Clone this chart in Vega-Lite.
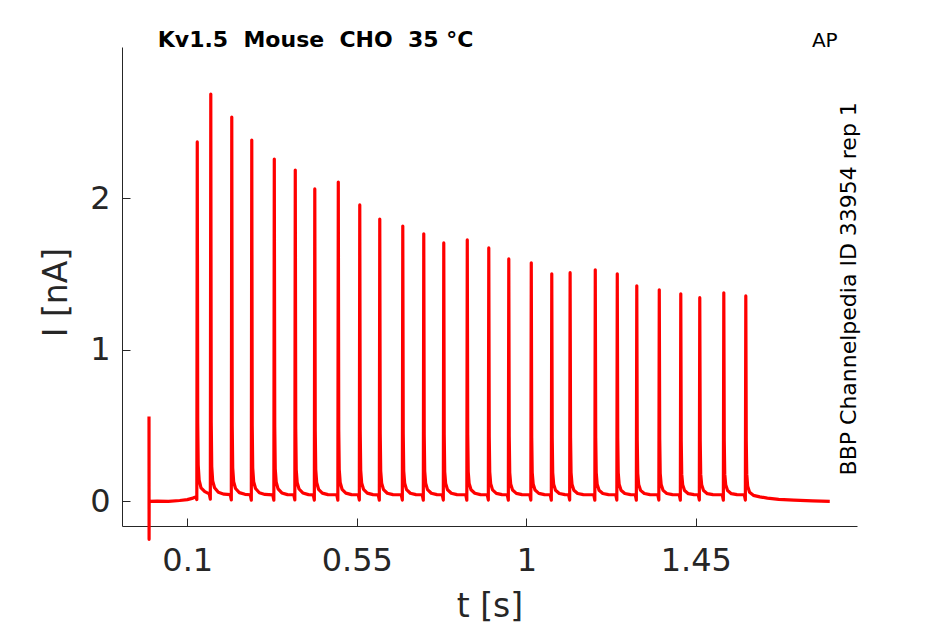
{
  "$schema": "https://vega.github.io/schema/vega-lite/v6.json",
  "autosize": {"type": "none"},
  "padding": {"left": 122, "top": 47, "right": 88, "bottom": 98},
  "width": 735,
  "height": 479,
  "background": "white",
  "layer": [
    {
      "data": {
        "values": [
          {"t": -0.0016, "I": 0.56}, {"t": -0.0014, "I": -0.25}, {"t": -0.0012, "I": 0.0},
          {"t": 0.02, "I": 0.002}, {"t": 0.05, "I": 0.0}, {"t": 0.08, "I": 0.006}, {"t": 0.1, "I": 0.012}, {"t": 0.115, "I": 0.022},
          {"t": 0.1225, "I": 0.03}, {"t": 0.1253, "I": 0.012}, {"t": 0.1265, "I": 2.37}, {"t": 0.1277, "I": 0.52}, {"t": 0.129, "I": 0.24}, {"t": 0.1315, "I": 0.14}, {"t": 0.1365, "I": 0.09}, {"t": 0.1465, "I": 0.065},
          {"t": 0.1584, "I": 0.05}, {"t": 0.1612, "I": 0.015}, {"t": 0.1624, "I": 2.686}, {"t": 0.1636, "I": 0.52}, {"t": 0.1649, "I": 0.23}, {"t": 0.1674, "I": 0.135}, {"t": 0.1724, "I": 0.09}, {"t": 0.1824, "I": 0.06}, {"t": 0.1974, "I": 0.048},
          {"t": 0.2141, "I": 0.045}, {"t": 0.2169, "I": 0.01}, {"t": 0.2181, "I": 2.534}, {"t": 0.2193, "I": 0.5}, {"t": 0.2206, "I": 0.22}, {"t": 0.2231, "I": 0.13}, {"t": 0.2281, "I": 0.085}, {"t": 0.2381, "I": 0.058}, {"t": 0.2531, "I": 0.047},
          {"t": 0.2672, "I": 0.044}, {"t": 0.27, "I": 0.008}, {"t": 0.2712, "I": 2.383}, {"t": 0.2724, "I": 0.5}, {"t": 0.2737, "I": 0.22}, {"t": 0.2762, "I": 0.13}, {"t": 0.2812, "I": 0.085}, {"t": 0.2912, "I": 0.057}, {"t": 0.3062, "I": 0.046},
          {"t": 0.327, "I": 0.043}, {"t": 0.3298, "I": 0.008}, {"t": 0.331, "I": 2.257}, {"t": 0.3322, "I": 0.49}, {"t": 0.3335, "I": 0.215}, {"t": 0.336, "I": 0.128}, {"t": 0.341, "I": 0.083}, {"t": 0.351, "I": 0.056}, {"t": 0.366, "I": 0.045},
          {"t": 0.3827, "I": 0.044}, {"t": 0.3855, "I": 0.01}, {"t": 0.3867, "I": 2.185}, {"t": 0.3879, "I": 0.48}, {"t": 0.3892, "I": 0.21}, {"t": 0.3917, "I": 0.125}, {"t": 0.3967, "I": 0.082}, {"t": 0.4067, "I": 0.056}, {"t": 0.4217, "I": 0.045},
          {"t": 0.4345, "I": 0.043}, {"t": 0.4373, "I": 0.009}, {"t": 0.4385, "I": 2.06}, {"t": 0.4397, "I": 0.47}, {"t": 0.441, "I": 0.21}, {"t": 0.4435, "I": 0.125}, {"t": 0.4485, "I": 0.08}, {"t": 0.4585, "I": 0.055}, {"t": 0.4735, "I": 0.045},
          {"t": 0.4969, "I": 0.044}, {"t": 0.4997, "I": 0.008}, {"t": 0.5009, "I": 2.106}, {"t": 0.5021, "I": 0.47}, {"t": 0.5034, "I": 0.21}, {"t": 0.5059, "I": 0.125}, {"t": 0.5109, "I": 0.08}, {"t": 0.5209, "I": 0.055}, {"t": 0.5359, "I": 0.045},
          {"t": 0.5539, "I": 0.044}, {"t": 0.5567, "I": 0.009}, {"t": 0.5579, "I": 1.955}, {"t": 0.5591, "I": 0.46}, {"t": 0.5604, "I": 0.205}, {"t": 0.5629, "I": 0.122}, {"t": 0.5679, "I": 0.08}, {"t": 0.5779, "I": 0.055}, {"t": 0.5929, "I": 0.045},
          {"t": 0.607, "I": 0.043}, {"t": 0.6098, "I": 0.008}, {"t": 0.611, "I": 1.862}, {"t": 0.6122, "I": 0.45}, {"t": 0.6135, "I": 0.2}, {"t": 0.616, "I": 0.12}, {"t": 0.621, "I": 0.078}, {"t": 0.631, "I": 0.054}, {"t": 0.646, "I": 0.045},
          {"t": 0.6681, "I": 0.044}, {"t": 0.6709, "I": 0.009}, {"t": 0.6721, "I": 1.816}, {"t": 0.6733, "I": 0.45}, {"t": 0.6746, "I": 0.2}, {"t": 0.6771, "I": 0.12}, {"t": 0.6821, "I": 0.078}, {"t": 0.6921, "I": 0.054}, {"t": 0.7071, "I": 0.045},
          {"t": 0.7238, "I": 0.044}, {"t": 0.7266, "I": 0.008}, {"t": 0.7278, "I": 1.764}, {"t": 0.729, "I": 0.44}, {"t": 0.7303, "I": 0.2}, {"t": 0.7328, "I": 0.12}, {"t": 0.7378, "I": 0.078}, {"t": 0.7478, "I": 0.054}, {"t": 0.7628, "I": 0.045},
          {"t": 0.7769, "I": 0.044}, {"t": 0.7797, "I": 0.009}, {"t": 0.7809, "I": 1.704}, {"t": 0.7821, "I": 0.44}, {"t": 0.7834, "I": 0.195}, {"t": 0.7859, "I": 0.118}, {"t": 0.7909, "I": 0.077}, {"t": 0.8009, "I": 0.054}, {"t": 0.8159, "I": 0.045},
          {"t": 0.8393, "I": 0.044}, {"t": 0.8421, "I": 0.008}, {"t": 0.8433, "I": 1.724}, {"t": 0.8445, "I": 0.44}, {"t": 0.8458, "I": 0.195}, {"t": 0.8483, "I": 0.118}, {"t": 0.8533, "I": 0.077}, {"t": 0.8633, "I": 0.054}, {"t": 0.8783, "I": 0.045},
          {"t": 0.8964, "I": 0.044}, {"t": 0.8992, "I": 0.009}, {"t": 0.9004, "I": 1.671}, {"t": 0.9016, "I": 0.43}, {"t": 0.9029, "I": 0.195}, {"t": 0.9054, "I": 0.117}, {"t": 0.9104, "I": 0.076}, {"t": 0.9204, "I": 0.053}, {"t": 0.9354, "I": 0.045},
          {"t": 0.9495, "I": 0.044}, {"t": 0.9523, "I": 0.008}, {"t": 0.9535, "I": 1.599}, {"t": 0.9547, "I": 0.43}, {"t": 0.956, "I": 0.19}, {"t": 0.9585, "I": 0.115}, {"t": 0.9635, "I": 0.075}, {"t": 0.9735, "I": 0.053}, {"t": 0.9885, "I": 0.045},
          {"t": 1.0092, "I": 0.044}, {"t": 1.012, "I": 0.009}, {"t": 1.0132, "I": 1.573}, {"t": 1.0144, "I": 0.42}, {"t": 1.0157, "I": 0.19}, {"t": 1.0182, "I": 0.115}, {"t": 1.0232, "I": 0.075}, {"t": 1.0332, "I": 0.053}, {"t": 1.0482, "I": 0.045},
          {"t": 1.0636, "I": 0.044}, {"t": 1.0664, "I": 0.008}, {"t": 1.0676, "I": 1.501}, {"t": 1.0688, "I": 0.42}, {"t": 1.0701, "I": 0.19}, {"t": 1.0726, "I": 0.114}, {"t": 1.0776, "I": 0.074}, {"t": 1.0876, "I": 0.052}, {"t": 1.1026, "I": 0.045},
          {"t": 1.1123, "I": 0.044}, {"t": 1.1151, "I": 0.009}, {"t": 1.1163, "I": 1.508}, {"t": 1.1175, "I": 0.42}, {"t": 1.1188, "I": 0.19}, {"t": 1.1213, "I": 0.114}, {"t": 1.1263, "I": 0.074}, {"t": 1.1363, "I": 0.052}, {"t": 1.1513, "I": 0.045},
          {"t": 1.1791, "I": 0.044}, {"t": 1.1819, "I": 0.008}, {"t": 1.1831, "I": 1.527}, {"t": 1.1843, "I": 0.42}, {"t": 1.1856, "I": 0.19}, {"t": 1.1881, "I": 0.114}, {"t": 1.1931, "I": 0.074}, {"t": 1.2031, "I": 0.052}, {"t": 1.2181, "I": 0.045},
          {"t": 1.2375, "I": 0.044}, {"t": 1.2403, "I": 0.009}, {"t": 1.2415, "I": 1.501}, {"t": 1.2427, "I": 0.42}, {"t": 1.244, "I": 0.19}, {"t": 1.2465, "I": 0.113}, {"t": 1.2515, "I": 0.074}, {"t": 1.2615, "I": 0.052}, {"t": 1.2765, "I": 0.045},
          {"t": 1.2893, "I": 0.044}, {"t": 1.2921, "I": 0.008}, {"t": 1.2933, "I": 1.422}, {"t": 1.2945, "I": 0.41}, {"t": 1.2958, "I": 0.185}, {"t": 1.2983, "I": 0.112}, {"t": 1.3033, "I": 0.073}, {"t": 1.3133, "I": 0.052}, {"t": 1.3283, "I": 0.045},
          {"t": 1.349, "I": 0.044}, {"t": 1.3518, "I": 0.009}, {"t": 1.353, "I": 1.395}, {"t": 1.3542, "I": 0.41}, {"t": 1.3555, "I": 0.185}, {"t": 1.358, "I": 0.112}, {"t": 1.363, "I": 0.073}, {"t": 1.373, "I": 0.052}, {"t": 1.388, "I": 0.045},
          {"t": 1.4061, "I": 0.044}, {"t": 1.4089, "I": 0.008}, {"t": 1.4101, "I": 1.369}, {"t": 1.4113, "I": 0.4}, {"t": 1.4126, "I": 0.18}, {"t": 1.4151, "I": 0.11}, {"t": 1.4201, "I": 0.072}, {"t": 1.4301, "I": 0.051}, {"t": 1.4451, "I": 0.045},
          {"t": 1.4565, "I": 0.044}, {"t": 1.4593, "I": 0.009}, {"t": 1.4605, "I": 1.343}, {"t": 1.4617, "I": 0.4}, {"t": 1.463, "I": 0.18}, {"t": 1.4655, "I": 0.11}, {"t": 1.4705, "I": 0.072}, {"t": 1.4805, "I": 0.051}, {"t": 1.4955, "I": 0.045},
          {"t": 1.5203, "I": 0.044}, {"t": 1.5231, "I": 0.008}, {"t": 1.5243, "I": 1.375}, {"t": 1.5255, "I": 0.4}, {"t": 1.5268, "I": 0.18}, {"t": 1.5293, "I": 0.11}, {"t": 1.5343, "I": 0.072}, {"t": 1.5443, "I": 0.051}, {"t": 1.5593, "I": 0.045},
          {"t": 1.5787, "I": 0.044}, {"t": 1.5815, "I": 0.009}, {"t": 1.5827, "I": 1.355}, {"t": 1.5839, "I": 0.4}, {"t": 1.5852, "I": 0.18}, {"t": 1.5877, "I": 0.1}, {"t": 1.5927, "I": 0.06}, {"t": 1.6027, "I": 0.04},
          {"t": 1.62, "I": 0.03}, {"t": 1.64, "I": 0.022}, {"t": 1.67, "I": 0.014}, {"t": 1.71, "I": 0.008}, {"t": 1.76, "I": 0.003}, {"t": 1.8056, "I": 0.0}
        ]
      },
      "mark": {"type": "line", "color": "#ff0000", "strokeWidth": 3.2, "strokeJoin": "round", "clip": false},
      "encoding": {
        "x": {
          "field": "t",
          "type": "quantitative",
          "scale": {"domain": [-0.0733, 1.8779], "nice": false, "zero": false},
          "axis": {"values": [0.1, 0.55, 1, 1.45], "format": ".3~g", "title": "t [s]", "labelPadding": 27, "titlePadding": 14}
        },
        "y": {
          "field": "I",
          "type": "quantitative",
          "scale": {"domain": [-0.162, 2.996], "nice": false, "zero": false},
          "axis": {"values": [0, 1, 2], "format": "d", "title": "I [nA]", "labelPadding": 20, "titlePadding": 16, "titleY": 245}
        }
      }
    },
    {
      "data": {"values": [{"t": 0.0217, "I": 2.996, "label": "Kv1.5\u00a0\u00a0Mouse\u00a0\u00a0CHO\u00a0\u00a035\u00a0°C"}]},
      "mark": {"type": "text", "align": "left", "baseline": "alphabetic", "font": "DejaVu Sans", "fontSize": 22, "fontWeight": "bold", "color": "black"},
      "encoding": {
        "x": {"field": "t", "type": "quantitative"},
        "y": {"field": "I", "type": "quantitative"},
        "text": {"field": "label"}
      }
    },
    {
      "data": {"values": [{"t": 1.7923, "I": 2.996, "label": "AP"}]},
      "mark": {"type": "text", "align": "center", "baseline": "alphabetic", "font": "DejaVu Sans", "fontSize": 20, "color": "black"},
      "encoding": {
        "x": {"field": "t", "type": "quantitative"},
        "y": {"field": "I", "type": "quantitative"},
        "text": {"field": "label"}
      }
    },
    {
      "data": {"values": [{"t": 1.856, "I": 1.402, "label": "BBP Channelpedia ID 33954 rep 1"}]},
      "mark": {"type": "text", "align": "center", "baseline": "middle", "angle": 270, "font": "DejaVu Sans", "fontSize": 22, "color": "black"},
      "encoding": {
        "x": {"field": "t", "type": "quantitative"},
        "y": {"field": "I", "type": "quantitative"},
        "text": {"field": "label"}
      }
    }
  ],
  "config": {
    "view": {"stroke": null},
    "axis": {
      "grid": false,
      "domainColor": "#262626",
      "domainWidth": 1,
      "tickColor": "#262626",
      "tickSize": -8,
      "labelColor": "#262626",
      "titleColor": "#262626",
      "labelFont": "DejaVu Sans",
      "titleFont": "DejaVu Sans",
      "labelFontSize": 32,
      "titleFontSize": 33,
      "titleFontWeight": "normal"
    }
  }
}
